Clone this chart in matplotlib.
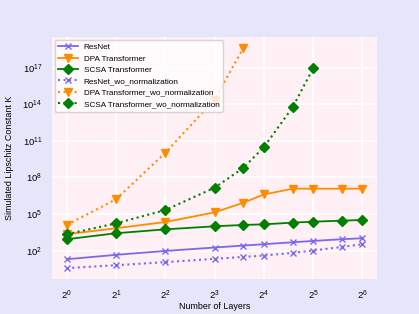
import numpy as np
import matplotlib
matplotlib.use("Agg")
import matplotlib.pyplot as plt
from matplotlib.ticker import FixedLocator, LogFormatterSciNotation

plt.rcParams['font.family'] = ['Liberation Sans', 'DejaVu Sans']

layers = [1, 2, 4, 8, 12, 16, 24, 32, 48, 64]
layers_dpa_wo = [1, 2, 4, 8, 12]
layers_scsa_wo = [1, 2, 4, 8, 12, 16, 24, 32]

# log10 of simulated Lipschitz constant
resnet = [1.29, 1.65, 1.97, 2.25, 2.41, 2.52, 2.68, 2.79, 2.93, 3.01]
dpa = [3.34, 3.83, 4.34, 5.13, 5.92, 6.6, 7.07, 7.07, 7.07, 7.07]
scsa = [2.93, 3.42, 3.74, 3.99, 4.10, 4.15, 4.29, 4.37, 4.45, 4.51]
resnet_wo = [0.56, 0.80, 1.05, 1.32, 1.48, 1.59, 1.81, 2.0, 2.30, 2.52]
dpa_wo = [4.10, 6.2, 10.01, 14.37, 18.6]
scsa_wo = [3.34, 4.23, 5.32, 7.15, 8.78, 10.47, 13.74, 16.93]

fig = plt.figure(figsize=(4.19, 3.14), dpi=100, facecolor='#e6e6fa')
ax = fig.add_axes([0.124, 0.111, 0.776, 0.771], facecolor='#fff0f5')

purple, orange, green = '#7b68ee', '#ff8c00', 'green'
ax.plot(layers, 10**np.array(resnet), '-x', color=purple, ms=5, lw=1.3, label='ResNet')
ax.plot(layers, 10**np.array(dpa), '-v', color=orange, ms=6, lw=1.3, label='DPA Transformer')
ax.plot(layers, 10**np.array(scsa), '-D', color=green, ms=5.5, lw=1.3, label='SCSA Transformer')
ax.plot(layers, 10**np.array(resnet_wo), ':x', color=purple, ms=5, lw=1.5, label='ResNet_wo_normalization')
ax.plot(layers_dpa_wo, 10**np.array(dpa_wo), ':v', color=orange, ms=6, lw=1.5, label='DPA Transformer_wo_normalization')
ax.plot(layers_scsa_wo, 10**np.array(scsa_wo), ':D', color=green, ms=5.5, lw=1.5, label='SCSA Transformer_wo_normalization')

ax.set_xscale('log', base=2)
ax.set_yscale('log')
ax.xaxis.set_major_locator(FixedLocator([2**i for i in range(7)]))
ax.xaxis.set_major_formatter(LogFormatterSciNotation(base=2))
ax.xaxis.set_minor_locator(FixedLocator([]))
ax.yaxis.set_major_locator(FixedLocator([10.0**i for i in [2, 5, 8, 11, 14, 17]]))
ax.yaxis.set_minor_locator(FixedLocator([]))

ax.grid(True, color='white', lw=1.2)
ax.set_axisbelow(True)
for s in ax.spines.values():
    s.set_visible(False)
ax.tick_params(length=0, labelsize=6.8, pad=7)

ax.set_xlabel('Number of Layers', fontsize=6.4, labelpad=0)
ax.set_ylabel('Simulated Lipschitz Constant K', fontsize=6.4, labelpad=6)
ax.legend(loc='upper left', fontsize=5.85, framealpha=0.8, edgecolor='#cccccc',
          borderaxespad=0.35, handlelength=2.4, labelspacing=0.45, borderpad=0.45,
          handletextpad=0.7)

fig.savefig('out.png', dpi=100, facecolor=fig.get_facecolor())
